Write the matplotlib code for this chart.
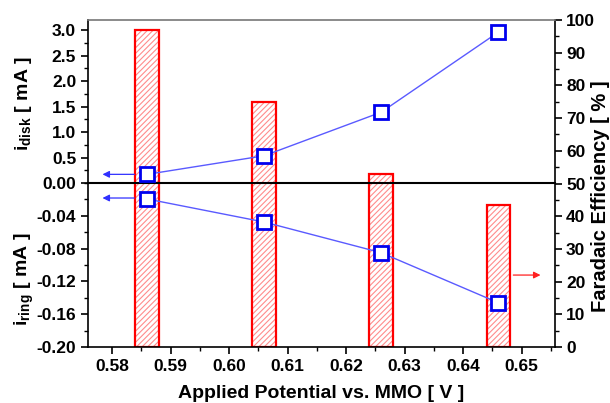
import matplotlib
matplotlib.use("Agg")
import matplotlib.pyplot as plt
from matplotlib.ticker import MultipleLocator, FormatStrFormatter

plt.rcParams['font.family'] = ['Liberation Sans', 'DejaVu Sans']
plt.rcParams['font.weight'] = 'bold'
plt.rcParams['hatch.linewidth'] = 0.8

# Data
potential = [0.586, 0.606, 0.626, 0.646]
i_disk = [0.17, 0.535, 1.39, 2.96]
i_ring = [-0.0195, -0.0476, -0.085, -0.146]
faradaic_eff = [97, 75, 53, 43.3]

bar_width = 0.004
line_color = '#5a5aff'
mark_color = '#0000ee'

FW, FH = 610, 403
fig = plt.figure(figsize=(FW/100, FH/100), dpi=100)
L, R = 88/FW, 555/FW
T, M, B = 1-20/FH, 1-183/FH, 1-347/FH
W = R - L

xlim = (0.5759, 0.6557)

# FE axis spanning full height
axfe = fig.add_axes([L, B, W, T-B])
axfe.set_xlim(*xlim)
axfe.set_ylim(0, 100)
axfe.bar(potential, faradaic_eff, width=bar_width, color='white',
         edgecolor='#ff8c8c', hatch='//////', linewidth=0, zorder=1)
axfe.bar(potential, faradaic_eff, width=bar_width, fill=False,
         edgecolor='#ff0000', linewidth=1.6, zorder=2)
axfe.yaxis.tick_right()
axfe.set_xticks([])
for s in ['left', 'top', 'bottom']:
    axfe.spines[s].set_visible(False)
axfe.spines['right'].set_linewidth(1.2)
axfe.yaxis.set_major_locator(MultipleLocator(10))
axfe.yaxis.set_minor_locator(MultipleLocator(5))
axfe.tick_params(axis='y', which='major', direction='out', length=5, width=1.2, labelsize=12.5, pad=3)
axfe.tick_params(axis='y', which='minor', direction='out', length=3, width=1.0)
axfe.annotate('', xy=(potential[3] + 0.0077, 22), xytext=(potential[3] + 0.0021, 22),
              arrowprops=dict(arrowstyle='-|>', color='#ff2020', lw=0.9, mutation_scale=10))

# Top (disk) axis
axt = fig.add_axes([L, M, W, T-M])
axt.patch.set_alpha(0)
axt.set_xlim(*xlim)
axt.set_ylim(0, 3.2)
axt.plot(potential, i_disk, color=line_color, lw=1.0, zorder=3)
axt.plot(potential, i_disk, ls='none', marker='s', ms=10, mfc='white', mec=mark_color, mew=2, zorder=4)
axt.set_xticks([])
axt.spines['right'].set_visible(False)
axt.spines['top'].set_color('#777777')
axt.spines['top'].set_linewidth(1.2)
axt.spines['bottom'].set_linewidth(1.5)
axt.spines['left'].set_linewidth(1.2)
axt.set_yticks([0.5, 1.0, 1.5, 2.0, 2.5, 3.0])
axt.yaxis.set_minor_locator(MultipleLocator(0.25))
axt.yaxis.set_major_formatter(FormatStrFormatter('%.1f'))
axt.tick_params(axis='y', which='major', direction='out', length=5, width=1.2, labelsize=12.5)
axt.tick_params(axis='y', which='minor', direction='out', length=3, width=1.0)
axt.annotate('', xy=(potential[0] - 0.0081, i_disk[0]), xytext=(potential[0] - 0.0017, i_disk[0]),
             arrowprops=dict(arrowstyle='-|>', color='#3030ff', lw=0.9, mutation_scale=10))

# Bottom (ring) axis
axb = fig.add_axes([L, B, W, M-B])
axb.patch.set_alpha(0)
axb.set_xlim(*xlim)
axb.set_ylim(-0.2, 0)
axb.plot(potential, i_ring, color=line_color, lw=1.0, zorder=3)
axb.plot(potential, i_ring, ls='none', marker='s', ms=10, mfc='white', mec=mark_color, mew=2, zorder=4)
axb.spines['right'].set_visible(False)
axb.spines['top'].set_visible(False)
axb.spines['bottom'].set_linewidth(1.2)
axb.spines['left'].set_linewidth(1.2)
axb.set_yticks([0.0, -0.04, -0.08, -0.12, -0.16, -0.20])
axb.yaxis.set_minor_locator(MultipleLocator(0.02))
axb.yaxis.set_major_formatter(FormatStrFormatter('%.2f'))
axb.set_xticks([0.58, 0.59, 0.60, 0.61, 0.62, 0.63, 0.64, 0.65])
axb.xaxis.set_minor_locator(MultipleLocator(0.005))
axb.xaxis.set_major_formatter(FormatStrFormatter('%.2f'))
axb.tick_params(axis='both', which='major', direction='out', length=5, width=1.2, labelsize=12.5)
axb.tick_params(axis='both', which='minor', direction='out', length=3, width=1.0)
axb.set_xlabel('Applied Potential vs. MMO [ V ]', fontsize=14, fontweight='bold', labelpad=8)
axb.annotate('', xy=(potential[0] - 0.0081, i_ring[0] + 0.0012), xytext=(potential[0] - 0.0017, i_ring[0] + 0.0012),
             arrowprops=dict(arrowstyle='-|>', color='#3030ff', lw=0.9, mutation_scale=10))

# Axis titles placed as figure text
fig.text(24/FW, 1-103/FH, r'i$_{\mathregular{disk}}$ [ mA ]', rotation=90,
         ha='center', va='center', fontsize=14, fontweight='bold')
fig.text(24/FW, 1-279/FH, r'i$_{\mathregular{ring}}$ [ mA ]', rotation=90,
         ha='center', va='center', fontsize=14, fontweight='bold')
fig.text(600/FW, 1-196/FH, 'Faradaic Efficiency [ % ]', rotation=90,
         ha='center', va='center', fontsize=14.5, fontweight='bold')

fig.savefig('out.png', dpi=100)
